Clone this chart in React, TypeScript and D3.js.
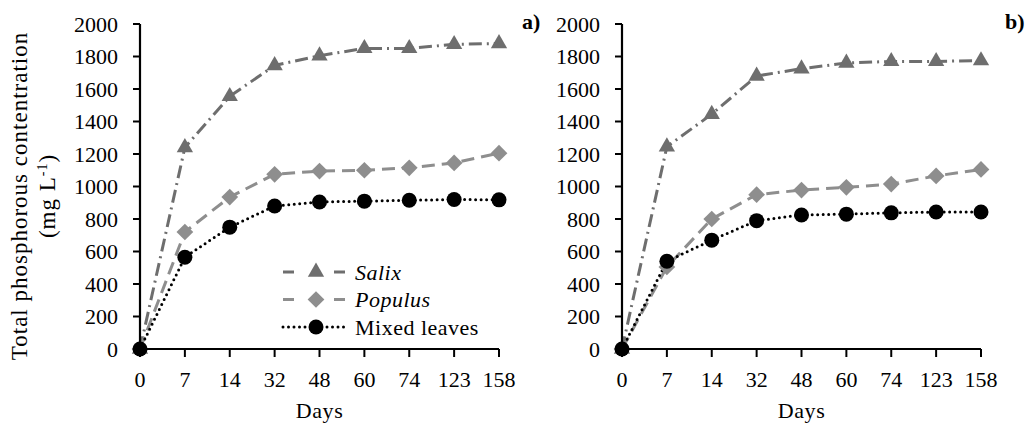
import * as d3 from "d3";

const days = ["0", "7", "14", "32", "48", "60", "74", "123", "158"];
const yTicks = [0, 200, 400, 600, 800, 1000, 1200, 1400, 1600, 1800, 2000];

const salixA = [0, 1240, 1555, 1745, 1805, 1850, 1850, 1875, 1880];
const populusA = [0, 720, 935, 1075, 1095, 1100, 1115, 1145, 1205];
const mixedA = [0, 565, 750, 880, 905, 910, 915, 920, 918];

const salixB = [0, 1245, 1445, 1680, 1725, 1760, 1770, 1770, 1775];
const populusB = [0, 505, 800, 950, 978, 995, 1015, 1065, 1105];
const mixedB = [0, 540, 670, 790, 825, 830, 838, 843, 843];

const seriesNames = ["Salix", "Populus", "Mixed leaves"];

const W = 1027;
const H = 425;
const FONT = "'Liberation Serif', 'Times New Roman', serif";

// line / marker styles per series
const styles = [
  { color: "#6e6e6e", dash: "13 5 2 5", width: 3, marker: "triangle" },
  { color: "#8e8e8e", dash: "13 7", width: 3, marker: "diamond" },
  { color: "#000000", dash: "0 5.5", width: 3, marker: "circle" },
];

const y = d3.scaleLinear().domain([0, 2000]).range([349, 24]);
const triPath = d3.symbol(d3.symbolTriangle, 115)()!;
const sqPath = d3.symbol(d3.symbolSquare, 140)()!;

function Marker({ kind, color, cx, cy }: { kind: string; color: string; cx: number; cy: number }) {
  if (kind === "triangle") return <path d={triPath} fill={color} transform={`translate(${cx},${cy})`} />;
  if (kind === "diamond") return <path d={sqPath} fill={color} transform={`translate(${cx},${cy}) rotate(45)`} />;
  return <circle cx={cx} cy={cy} r={7.5} fill={color} />;
}

function Panel({ x0, x1, series, label, labelX, legend }: any) {
  const x = d3.scalePoint<string>().domain(days).range([x0, x1]);
  const line = d3
    .line<number>()
    .x((_, i) => x(days[i])!)
    .y((d) => y(d));

  return (
    <g>
      {series.map((vals: number[], si: number) => (
        <path
          key={"l" + si}
          d={line(vals)!}
          fill="none"
          stroke={styles[si].color}
          strokeWidth={styles[si].width}
          strokeDasharray={styles[si].dash}
          strokeLinecap={si === 2 ? "round" : "butt"}
        />
      ))}
      {series.map((vals: number[], si: number) =>
        vals.map((v, i) => (
          <Marker key={`m${si}-${i}`} kind={styles[si].marker} color={styles[si].color} cx={x(days[i])!} cy={y(v)} />
        ))
      )}

      {/* axes */}
      <line x1={x0} x2={x0} y1={y(2000)} y2={y(0)} stroke="#000" strokeWidth={2.2} />
      <line x1={x0} x2={x1} y1={y(0)} y2={y(0)} stroke="#000" strokeWidth={2.2} />
      {yTicks.map((t) => (
        <g key={"yt" + t}>
          <line x1={x0 - 7} x2={x0} y1={y(t)} y2={y(t)} stroke="#000" strokeWidth={2} />
          <text x={x0 - 22} y={y(t)} dy="0.35em" textAnchor="end" fontSize={22}>
            {t}
          </text>
        </g>
      ))}
      {days.map((d) => (
        <g key={"xt" + d}>
          <line x1={x(d)} x2={x(d)} y1={y(0)} y2={y(0) + 8} stroke="#000" strokeWidth={2} />
          <text x={x(d)} y={387} textAnchor="middle" fontSize={22}>
            {d}
          </text>
        </g>
      ))}
      <text x={(x0 + x1) / 2} y={418} textAnchor="middle" fontSize={22} letterSpacing={0.6}>
        Days
      </text>
      <text x={labelX} y={29} fontSize={22} fontWeight="bold">
        {label}
      </text>

      {legend &&
        seriesNames.map((name, si) => {
          const ly = 272 + si * 27.5;
          return (
            <g key={"lg" + si}>
              <line
                x1={283}
                x2={345}
                y1={ly}
                y2={ly}
                stroke={styles[si].color}
                strokeWidth={styles[si].width}
                strokeDasharray={si === 2 ? "0 5.5" : "11 20 0 20"}
                strokeLinecap={si === 2 ? "round" : "butt"}
              />
              <Marker kind={styles[si].marker} color={styles[si].color} cx={316} cy={ly} />
              <text
                x={355}
                y={ly}
                dy="0.35em"
                fontSize={22}
                letterSpacing={0.5}
                fontStyle={si < 2 ? "italic" : "normal"}
              >
                {name}
              </text>
            </g>
          );
        })}
    </g>
  );
}

export default function App() {
  return (
    <svg
      width={W}
      height={H}
      style={{ position: "absolute", left: 0, top: 0, background: "#fff" }}
      fontFamily={FONT}
      fill="#000"
    >
      <Panel x0={140} x1={499} series={[salixA, populusA, mixedA]} label="a)" labelX={522} legend />
      <Panel x0={622} x1={981} series={[salixB, populusB, mixedB]} label="b)" labelX={1005} />
      <g transform="translate(27,196) rotate(-90)">
        <text textAnchor="middle" fontSize={23} letterSpacing={1}>
          Total phosphorous contentration
        </text>
        <text y={28} textAnchor="middle" fontSize={23} letterSpacing={1}>
          (mg L<tspan dy={-8} fontSize={14}>-1</tspan>
          <tspan dy={8}>)</tspan>
        </text>
      </g>
    </svg>
  );
}
